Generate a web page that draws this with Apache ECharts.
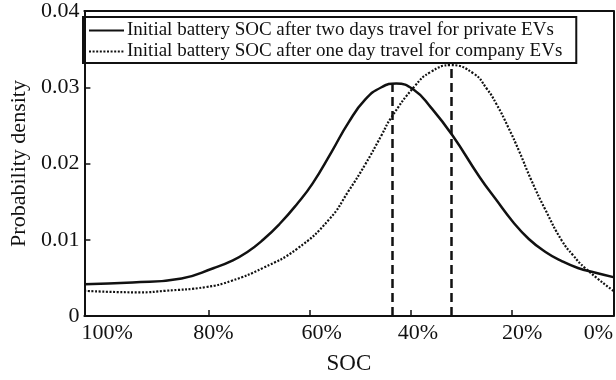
<!DOCTYPE html>
<html>
<head>
<meta charset="utf-8">
<script src="https://cdn.jsdelivr.net/npm/echarts@6/dist/echarts.min.js"></script>
<style>
  html, body { margin: 0; padding: 0; background: #fff; }
  #chart { width: 616px; height: 380px; }
</style>
</head>
<body>
<div id="chart"></div>
<script>
// Probability density of the initial battery SOC (x axis runs from 100% down to 0%)
const seriesNames = [
  'Initial battery SOC after two days travel for private EVs',
  'Initial battery SOC after one day travel for company EVs'
];

// [SOC %, probability density]
const privateEV = [
  [104.5, 0.00417], [95.0, 0.00438], [85.3, 0.00493], [78.9, 0.0063],
  [75.5, 0.0072], [72.3, 0.0084], [69.2, 0.0100], [65.9, 0.0121],
  [62.6, 0.0146], [59.4, 0.0174], [55.6, 0.0216], [52.3, 0.0254],
  [49.0, 0.0284], [45.8, 0.0300], [42.9, 0.0305],
  [39.3, 0.0296], [36.1, 0.0274], [31.8, 0.0237], [26.4, 0.0182],
  [23.1, 0.0152], [19.9, 0.0124], [16.7, 0.0101], [13.4, 0.0084],
  [10.2, 0.0072], [7.0, 0.0063], [3.7, 0.0057], [0, 0.0051]
];

const companyEV = [
  [104.5, 0.0033], [93.4, 0.0031], [88.6, 0.0033], [80.4, 0.0038],
  [75.5, 0.0046], [69.2, 0.0063], [62.5, 0.0088], [56.1, 0.0127],
  [52.3, 0.0164], [49.0, 0.0199], [45.8, 0.0237], [43.9, 0.0260],
  [39.3, 0.0301], [36.1, 0.0320], [32.1, 0.0329], [27.6, 0.0318],
  [25.0, 0.0298], [23.1, 0.0278], [20.8, 0.0248], [18.6, 0.0216],
  [16.2, 0.0178], [13.4, 0.0139], [10.2, 0.0099], [8.0, 0.0080],
  [5.6, 0.0063], [0, 0.0033]
];

// Modes of the two distributions, marked with dashed verticals
const modeMarks = [[43.7, 0.0304], [32.1, 0.0329]];

const xTickValues = [80, 60, 40, 20];
const xLabelValues = [100, 80, 60, 40, 20, 0];
const yTicks = [0, 0.01, 0.02, 0.03, 0.04];

const FONT = '"Liberation Serif", "Times New Roman", serif';
const INK = '#111';

// small horizontal nudges for the SOC labels (px, + moves right)
const labelShift = { 100: 0, 80: 5, 60: 12, 40: 7, 20: 10, 0: -15 };
const rich = {};
xLabelValues.forEach(v => {
  const s = labelShift[v];
  rich['l' + v] = {
    fontFamily: FONT, fontSize: 22, color: INK,
    padding: s >= 0 ? [0, 0, 0, 2 * s] : [0, -2 * s, 0, 0]
  };
});

// plain frame edges (top and right) without ticks or labels
const frameEdge = {
  axisLine: { show: true, onZero: false, lineStyle: { color: INK, width: 2 } },
  axisTick: { show: false },
  axisLabel: { show: false },
  splitLine: { show: false }
};

const chart = echarts.init(document.getElementById('chart'), null, { renderer: 'canvas' });

chart.setOption({
  animation: false,
  backgroundColor: '#fff',
  textStyle: { fontFamily: FONT, color: INK },
  grid: {
    left: 77, right: 2, top: 10, bottom: 57,
    show: false
  },
  legend: {
    left: 83, top: 17,
    orient: 'vertical',
    itemWidth: 35, itemHeight: 12, itemGap: 2,
    padding: [4, 14, 2, 5],
    borderColor: INK, borderWidth: 2,
    itemStyle: { opacity: 0 },
    textStyle: { fontFamily: FONT, fontSize: 19, color: INK, padding: [0, 0, 0, -2] },
    data: seriesNames
  },
  xAxis: [
    {
      type: 'value',
      inverse: true,
      min: 0, max: 104.5,
      name: 'SOC',
      nameLocation: 'middle',
      nameGap: 36,
      nameTextStyle: { fontFamily: FONT, fontSize: 23, color: INK },
      axisLine: { onZero: false, lineStyle: { color: INK, width: 2 } },
      axisTick: { inside: true, length: 6, lineStyle: { color: INK, width: 1.5 }, customValues: xTickValues },
      axisLabel: {
        customValues: xLabelValues,
        margin: 6,
        formatter: v => '{l' + v + '|' + v + '%}',
        rich: rich
      },
      splitLine: { show: false }
    },
    Object.assign({ type: 'value', position: 'top', inverse: true, min: 0, max: 104.5 }, frameEdge)
  ],
  yAxis: [
    {
      type: 'value',
      min: 0, max: 0.04, interval: 0.01,
      name: 'Probability density',
      nameLocation: 'middle',
      nameGap: 45,
      nameTextStyle: { fontFamily: FONT, fontSize: 22, color: INK },
      axisLine: { show: true, onZero: false, lineStyle: { color: INK, width: 2 } },
      axisTick: { inside: true, length: 6, lineStyle: { color: INK, width: 1.5 }, customValues: yTicks },
      axisLabel: {
        margin: 5,
        fontFamily: FONT, fontSize: 22, color: INK,
        formatter: v => (v === 0 ? '0' : v.toFixed(2))
      },
      splitLine: { show: false }
    },
    Object.assign({ type: 'value', position: 'right', min: 0, max: 0.04, interval: 0.01 }, frameEdge)
  ],
  series: [
    {
      name: seriesNames[0],
      type: 'line',
      data: privateEV,
      smooth: 0.5,
      symbol: 'none',
      lineStyle: { color: INK, width: 2.5, type: 'solid' },
      itemStyle: { color: INK },
      markLine: {
        silent: true,
        symbol: 'none',
        label: { show: false },
        lineStyle: { color: INK, width: 2.5, type: [9, 5] },
        data: [[{ coord: [modeMarks[0][0], 0] }, { coord: modeMarks[0] }]]
      }
    },
    {
      name: seriesNames[1],
      type: 'line',
      data: companyEV,
      smooth: 0.5,
      symbol: 'none',
      lineStyle: { color: INK, width: 2.2, type: [2, 1.6] },
      itemStyle: { color: INK },
      markLine: {
        silent: true,
        symbol: 'none',
        label: { show: false },
        lineStyle: { color: INK, width: 2.5, type: [9, 5] },
        data: [[{ coord: [modeMarks[1][0], 0] }, { coord: modeMarks[1] }]]
      }
    }
  ]
});
</script>
</body>
</html>
